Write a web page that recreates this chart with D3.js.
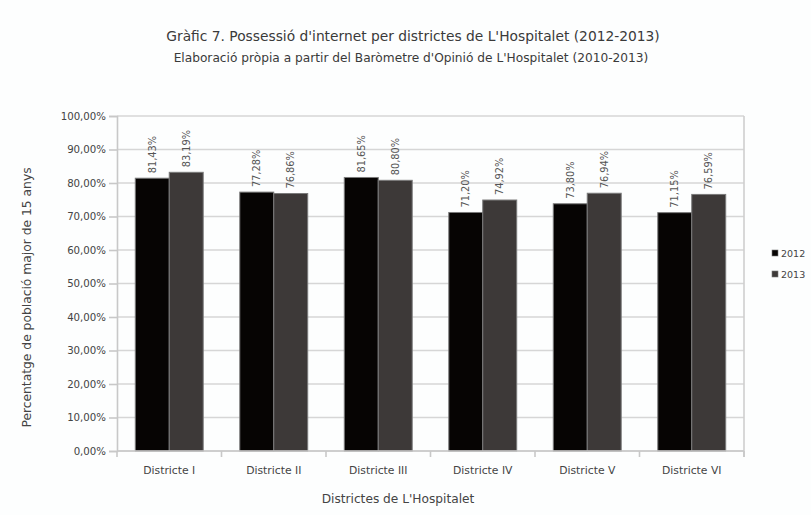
<!DOCTYPE html>
<html>
<head>
<meta charset="utf-8">
<script src="https://cdn.jsdelivr.net/npm/d3@7"></script>
<style>
  html, body { margin: 0; padding: 0; background: #ffffff; }
  svg { display: block; font-family: "DejaVu Sans", Verdana, sans-serif; }
</style>
</head>
<body>
<svg id="chart" width="811" height="515"></svg>
<script>
const titleText = "Gràfic 7. Possessió d'internet per districtes de L'Hospitalet (2012-2013)";
const subtitleText = "Elaboració pròpia a partir del Baròmetre d'Opinió de L'Hospitalet (2010-2013)";
const xAxisTitle = "Districtes de L'Hospitalet";
const yAxisTitle = "Percentatge de població major de 15 anys";

const categories = ["Districte I", "Districte II", "Districte III", "Districte IV", "Districte V", "Districte VI"];
const seriesNames = ["2012", "2013"];
const values2012 = [81.43, 77.28, 81.65, 71.20, 73.80, 71.15];
const values2013 = [83.19, 76.86, 80.80, 74.92, 76.94, 76.59];
const yTicks = [0, 10, 20, 30, 40, 50, 60, 70, 80, 90, 100];

const seriesValues = [values2012, values2013];
const colors = ["#060403", "#3d3938"];

const W = 811, H = 515;
const margin = { left: 117, right: 67, top: 116, bottom: 64 };
const pw = W - margin.left - margin.right;
const ph = H - margin.top - margin.bottom;

const svg = d3.select("#chart");
svg.append("rect").attr("width", W).attr("height", H).attr("fill", "#fdfefe");

const fmt = v => v.toFixed(2).replace(".", ",") + "%";
const txt = "#444";

// Titles
svg.append("text").attr("x", 413).attr("y", 41).attr("text-anchor", "middle")
  .attr("font-size", 13.8).attr("fill", "#3a3a3a").text(titleText);
svg.append("text").attr("x", 411).attr("y", 62).attr("text-anchor", "middle")
  .attr("font-size", 12.2).attr("fill", "#3a3a3a").text(subtitleText);

const g = svg.append("g").attr("transform", `translate(${margin.left},${margin.top})`);

const x0 = d3.scaleBand().domain(categories).range([0, pw]).padding(0);
const bw = x0.bandwidth();
const x1 = d3.scaleBand().domain(seriesNames).range([bw * 0.175, bw * 0.825]).padding(0);
const y = d3.scaleLinear().domain([0, 100]).range([ph, 0]);

// Gridlines
g.append("g").selectAll("line").data(yTicks).join("line")
  .attr("x1", 0).attr("x2", pw)
  .attr("y1", d => y(d)).attr("y2", d => y(d))
  .attr("stroke", "#d6d6d6").attr("stroke-width", 1.6);

// Right border
g.append("line").attr("x1", pw).attr("x2", pw).attr("y1", 0).attr("y2", ph + 6)
  .attr("stroke", "#cfcfcf").attr("stroke-width", 1.6);

// Y axis
const yAxis = g.append("g").call(d3.axisLeft(y).tickValues(yTicks).tickFormat(d => fmt(d)).tickSize(8).tickPadding(3));
yAxis.select(".domain").attr("stroke", "#c8c8c8").attr("stroke-width", 1.6);
yAxis.selectAll(".tick line").attr("stroke", "#c8c8c8").attr("stroke-width", 1.6);
yAxis.selectAll(".tick text").attr("font-size", 10.2).attr("fill", txt)
  .attr("font-family", "DejaVu Sans, Verdana, sans-serif");

// Bars
const groups = g.append("g").selectAll("g").data(categories).join("g")
  .attr("transform", d => `translate(${x0(d)},0)`);

groups.each(function(cat, ci) {
  const sel = d3.select(this);
  seriesNames.forEach((s, si) => {
    const v = seriesValues[si][ci];
    sel.append("rect")
      .attr("x", x1(s)).attr("y", y(v))
      .attr("width", x1.bandwidth()).attr("height", ph - y(v))
      .attr("fill", colors[si]).attr("stroke", "#7a7a7a").attr("stroke-width", 1);
    const cx = x1(s) + x1.bandwidth() / 2;
    sel.append("text")
      .attr("transform", `translate(${cx + 3.5},${y(v) - 5}) rotate(-90)`)
      .attr("font-size", 9.8).attr("fill", "#555").text(fmt(v));
  });
});

// X axis
const xAxis = g.append("g").attr("transform", `translate(0,${ph})`);
xAxis.append("line").attr("x1", 0).attr("x2", pw).attr("y1", 0).attr("y2", 0)
  .attr("stroke", "#c8c8c8").attr("stroke-width", 1.6);
xAxis.selectAll("line.tk").data(d3.range(categories.length + 1)).join("line").attr("class", "tk")
  .attr("x1", i => i * bw).attr("x2", i => i * bw).attr("y1", 0).attr("y2", 6)
  .attr("stroke", "#c8c8c8").attr("stroke-width", 1.6);
xAxis.selectAll("text").data(categories).join("text")
  .attr("x", d => x0(d) + bw / 2).attr("y", 23).attr("text-anchor", "middle")
  .attr("font-size", 10.8).attr("fill", txt).text(d => d);

// Axis titles
svg.append("text").attr("x", 398).attr("y", 503).attr("text-anchor", "middle")
  .attr("font-size", 12.2).attr("fill", txt).text(xAxisTitle);
svg.append("text").attr("transform", `translate(31,${margin.top + ph / 2 + 14}) rotate(-90)`)
  .attr("text-anchor", "middle").attr("font-size", 12.3).attr("fill", txt).text(yAxisTitle);

// Legend
const leg = svg.append("g").attr("transform", "translate(772,250)");
seriesNames.forEach((s, i) => {
  leg.append("rect").attr("x", 0).attr("y", i * 21).attr("width", 6).attr("height", 6)
    .attr("fill", colors[i]).attr("stroke", "#7a7a7a").attr("stroke-width", 0.6);
  leg.append("text").attr("x", 9).attr("y", i * 21 + 6.5).attr("font-size", 9.5)
    .attr("fill", txt).text(s);
});
</script>
</body>
</html>
